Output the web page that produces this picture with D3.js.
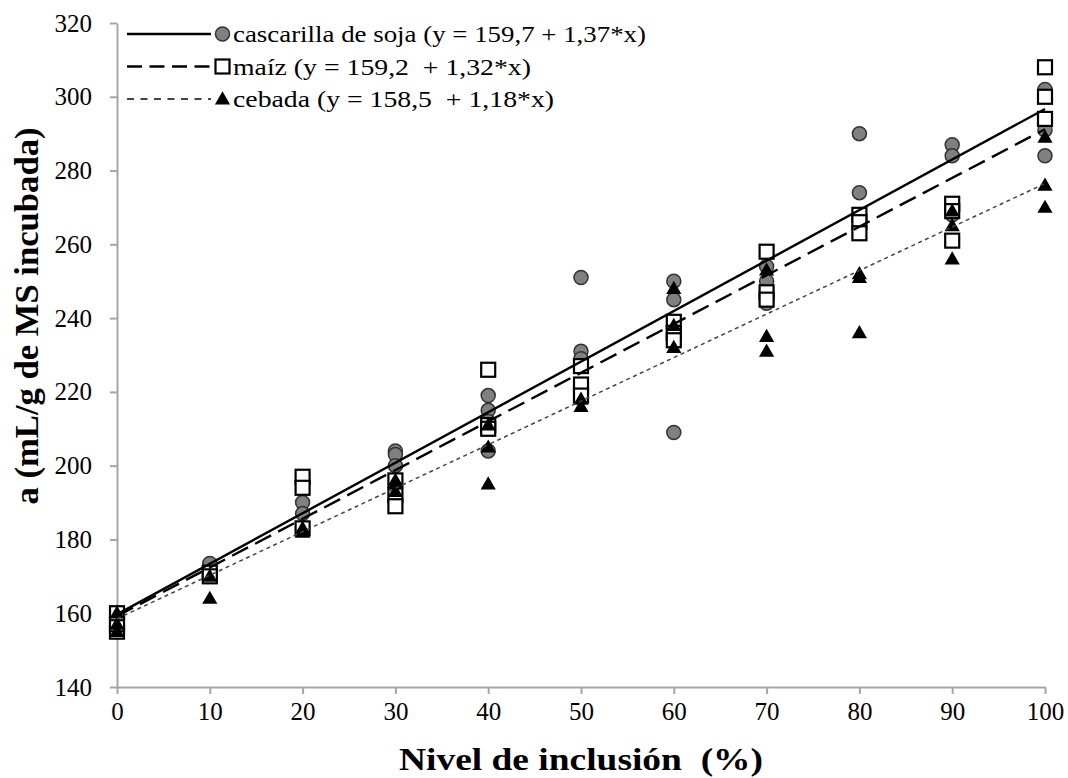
<!DOCTYPE html>
<html>
<head>
<meta charset="utf-8">
<script src="https://cdn.jsdelivr.net/npm/d3@7"></script>
<style>
  body { margin: 0; background: #fff; }
  svg text { white-space: pre; }
</style>
</head>
<body>
<div id="graphArea"></div>
<script>
// niveles de inclusion (x) y valores
var xLevels = [0, 10, 20, 30, 40, 50, 60, 70, 80, 90, 100];

var sojaPts = [
  [0,155],[0,157],[0,160],
  [10,173.5],
  [20,190],[20,187],[20,183],
  [30,204],[30,203],[30,200],
  [40,219],[40,215],[40,212],[40,204],
  [50,251],[50,231],[50,229],
  [60,250],[60,245],[60,239],[60,209],
  [70,254],[70,250],[70,244],
  [80,290],[80,274],[80,263],
  [90,287],[90,284],[90,268],
  [100,302],[100,291],[100,284]
];
var maizPts = [
  [0,155],[0,157],[0,160],
  [10,171],[10,170],
  [20,197],[20,194],[20,183],
  [30,196],[30,192],[30,189],
  [40,226],[40,211],[40,210],
  [50,227],[50,222],[50,219],
  [60,239],[60,236],[60,234],
  [70,258],[70,247],[70,245],
  [80,268],[80,266],[80,263],
  [90,271],[90,269],[90,261],
  [100,308],[100,300],[100,294]
];
var cebadaPts = [
  [0,155],[0,157],[0,160],
  [10,170],[10,164],
  [20,182],[20,183],[20,182],
  [30,196],[30,195],[30,193],
  [40,211],[40,205],[40,195],
  [50,218],[50,216],
  [60,248],[60,238],[60,232],
  [70,253],[70,235],[70,231],
  [80,252],[80,251],[80,236],
  [90,269],[90,265],[90,256],
  [100,289],[100,276],[100,270]
];

var seriesNames = ["cascarilla de soja (y = 159,7 + 1,37*x)", "maíz (y = 159,2  + 1,32*x)", "cebada (y = 158,5  + 1,18*x)"];
var intercepts = [159.7, 159.2, 158.5];
var slopes = [1.37, 1.32, 1.18];
var yTicks = [140, 160, 180, 200, 220, 240, 260, 280, 300, 320];

var W = 1068, H = 778;
var margin = { top: 23, left: 117, bottom: 91, right: 23 };
var serif = "'Liberation Serif', 'Times New Roman', serif";

var svg = d3.select("#graphArea").append("svg")
  .attr("width", W).attr("height", H)
  .attr("font-family", serif);

var x = d3.scaleLinear().domain([0, 100]).range([margin.left, W - margin.right]);
var y = d3.scaleLinear().domain([140, 320]).range([H - margin.bottom, margin.top]);

// axes
var xAxis = svg.append("g")
  .attr("transform", "translate(0," + y(140) + ")")
  .call(d3.axisBottom(x).tickValues(xLevels).tickSize(7).tickSizeOuter(0).tickPadding(8));
var yAxis = svg.append("g")
  .attr("transform", "translate(" + x(0) + ",0)")
  .call(d3.axisLeft(y).tickValues(yTicks).tickSize(7).tickSizeOuter(0).tickPadding(18));

[xAxis, yAxis].forEach(function (a) {
  a.attr("font-family", serif);
  a.selectAll("path, line").attr("stroke", "#a6a6a6").attr("stroke-width", 2);
  a.selectAll("text").attr("font-size", 25).attr("fill", "#000");
});

// axis titles
svg.append("text")
  .attr("x", (x(0) + x(100)) / 2).attr("y", 770)
  .attr("text-anchor", "middle").attr("font-size", 32).attr("font-weight", "bold")
  .attr("textLength", 364).attr("lengthAdjust", "spacingAndGlyphs")
  .text("Nivel de inclusión  (%)");
svg.append("text")
  .attr("transform", "translate(38,316) rotate(-90)")
  .attr("text-anchor", "middle").attr("font-size", 33).attr("font-weight", "bold")
  .attr("textLength", 377).attr("lengthAdjust", "spacingAndGlyphs")
  .text("a (mL/g de MS incubada)");

// markers
var triPath = d3.symbol().type(d3.symbolTriangle).size(100)();

function drawPoint(g, kind, cx, cy) {
  if (kind == 0) {
    g.append("circle").attr("cx", cx).attr("cy", cy).attr("r", 7)
      .attr("fill", "#808080").attr("stroke", "#333").attr("stroke-width", 1.5);
  } else if (kind == 1) {
    g.append("rect").attr("x", cx - 7).attr("y", cy - 7).attr("width", 14).attr("height", 14)
      .attr("fill", "#fff").attr("stroke", "#000").attr("stroke-width", 2.2);
  } else {
    g.append("path").attr("d", triPath).attr("transform", "translate(" + cx + "," + (cy + 1) + ")")
      .attr("fill", "#000");
  }
}

var allPts = [sojaPts, maizPts, cebadaPts];
var pointsG = svg.append("g");
allPts.forEach(function (pts, k) {
  pts.forEach(function (p) { drawPoint(pointsG, k, x(p[0]), y(p[1])); });
});

// regression lines
var dashes = [null, "18,8", "4,3.5"];
var widths = [2.4, 2.4, 1.5];
var colors = ["#000", "#000", "#444"];
intercepts.forEach(function (b, k) {
  svg.append("line")
    .attr("x1", x(0)).attr("y1", y(b))
    .attr("x2", x(100)).attr("y2", y(b + slopes[k] * 100))
    .attr("stroke", colors[k]).attr("stroke-width", widths[k])
    .attr("stroke-dasharray", dashes[k]);
});

// legend
var legendDash = [null, "15,7.5", "7,6.5"];
var legendW = [413, 298, 321];
var legend = svg.append("g");
seriesNames.forEach(function (name, k) {
  var ly = 34 + k * 32.5;
  legend.append("line").attr("x1", 127).attr("x2", 211).attr("y1", ly).attr("y2", ly)
    .attr("stroke", colors[k]).attr("stroke-width", k == 2 ? 2 : widths[k])
    .attr("stroke-dasharray", legendDash[k]);
  drawPoint(legend, k, 222.5, ly);
  legend.append("text").attr("x", 233).attr("y", ly + 8).attr("font-size", 24)
    .attr("textLength", legendW[k]).attr("lengthAdjust", "spacingAndGlyphs")
    .text(name);
});
</script>
</body>
</html>
